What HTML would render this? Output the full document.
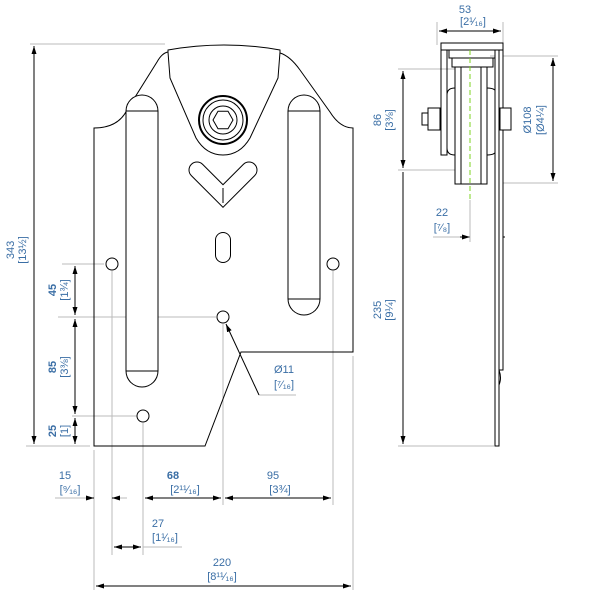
<!DOCTYPE html>
<html><head><style>body{margin:0;background:#fff}svg{display:block}text{font-family:"Liberation Sans",sans-serif;fill:#3a6ea5;font-size:11px}</style></head><body>
<svg width="600" height="600" viewBox="0 0 600 600">
<defs><marker id="a" markerWidth="8" markerHeight="6" refX="8" refY="3" orient="auto-start-reverse"><path d="M0,0.5L8,3L0,5.5z" fill="#000"/></marker></defs>
<g stroke="#bbb" stroke-width="1" fill="none">
<line x1="30" y1="44" x2="165" y2="44"/><line x1="26" y1="446" x2="90" y2="446"/>
<line x1="62" y1="264" x2="104" y2="264"/><line x1="58" y1="317" x2="216" y2="317"/><line x1="72" y1="416" x2="137" y2="416"/>
<line x1="94" y1="450" x2="94" y2="590"/><line x1="112" y1="271" x2="112" y2="555"/><line x1="143" y1="423" x2="143" y2="555"/>
<line x1="223" y1="324" x2="223" y2="505"/><line x1="333" y1="271" x2="333" y2="505"/><line x1="353" y1="356" x2="353" y2="590"/>
<line x1="143" y1="547" x2="182" y2="547"/><line x1="55" y1="498" x2="86" y2="498"/><line x1="120" y1="498" x2="127" y2="498"/>
<line x1="437" y1="22" x2="437" y2="45"/><line x1="503" y1="22" x2="503" y2="45"/>
<line x1="398" y1="69" x2="460" y2="69"/><line x1="398" y1="170" x2="460" y2="170"/>
<line x1="490" y1="56" x2="558" y2="56"/><line x1="500" y1="183" x2="558" y2="183"/>
<line x1="398" y1="446" x2="494" y2="446"/><line x1="433" y1="237" x2="460" y2="237"/>
<line x1="259" y1="395" x2="296" y2="395"/>
</g>
<g stroke="#000" stroke-width="1" fill="none">
<line x1="34" y1="46" x2="34" y2="444" marker-start="url(#a)" marker-end="url(#a)"/>
<line x1="75" y1="266" x2="75" y2="315" marker-start="url(#a)" marker-end="url(#a)"/>
<line x1="75" y1="319" x2="75" y2="414" marker-start="url(#a)" marker-end="url(#a)"/>
<line x1="75" y1="418" x2="75" y2="444" marker-start="url(#a)" marker-end="url(#a)"/>
<line x1="86" y1="498" x2="94" y2="498" marker-end="url(#a)"/><line x1="120" y1="498" x2="112" y2="498" marker-end="url(#a)"/>
<line x1="145" y1="498" x2="221" y2="498" marker-start="url(#a)" marker-end="url(#a)"/>
<line x1="225" y1="498" x2="331" y2="498" marker-start="url(#a)" marker-end="url(#a)"/>
<line x1="114" y1="547" x2="141" y2="547" marker-start="url(#a)" marker-end="url(#a)"/>
<line x1="96" y1="586" x2="351" y2="586" marker-start="url(#a)" marker-end="url(#a)"/>
<line x1="439" y1="93" x2="501" y2="93" stroke-width="0" />
<line x1="439" y1="31" x2="501" y2="31" marker-start="url(#a)" marker-end="url(#a)"/>
<line x1="403" y1="71" x2="403" y2="168" marker-start="url(#a)" marker-end="url(#a)"/>
<line x1="403" y1="172" x2="403" y2="444" marker-end="url(#a)"/>
<line x1="553" y1="58" x2="553" y2="181" marker-start="url(#a)" marker-end="url(#a)"/>
<line x1="460" y1="237" x2="470" y2="237" marker-end="url(#a)"/><line x1="505" y1="237" x2="495" y2="237" marker-end="url(#a)"/>
<line x1="470" y1="200" x2="470" y2="242" stroke="#bbb"/><line x1="495" y1="200" x2="495" y2="242" stroke="#bbb"/>
<line x1="259" y1="395" x2="226" y2="324" marker-end="url(#a)"/>
<!-- plate -->
<path d="M94,446 L94,128 Q118,128 127,110 L157,62 Q162,53 168,52 L168,50 Q224,40 280,50 L280,53 Q290,56 300,70 L330,112 Q340,128 353,128 L353,352 L241,352 L205,446 Z"/>
<path d="M168,52 L170,78 L196,138 Q206,155 223,155 Q240,155 250,138 L278,78 L280,52"/>
<circle cx="223" cy="120" r="24" stroke-width="2"/><circle cx="223" cy="120" r="20"/><circle cx="223" cy="120" r="14"/>
<polygon points="233,120 228,128.7 218,128.7 213,120 218,111.3 228,111.3"/>
<circle cx="112" cy="264" r="6"/><circle cx="333" cy="264" r="6"/><circle cx="223" cy="317" r="6"/><circle cx="143" cy="416" r="6"/>
</g>
<g stroke-linecap="round" stroke-linejoin="miter" fill="none">
<path d="M142,111 L142,371" stroke="#000" stroke-width="33"/><path d="M142,111 L142,371" stroke="#fff" stroke-width="31"/>
<path d="M304,111 L304,299" stroke="#000" stroke-width="33"/><path d="M304,111 L304,299" stroke="#fff" stroke-width="31"/>
<path d="M223,240 L223,255" stroke="#000" stroke-width="16"/><path d="M223,240 L223,255" stroke="#fff" stroke-width="14"/>
<path d="M197,170 L223,196 L249,170" stroke="#000" stroke-width="17"/><path d="M197,170 L223,196 L249,170" stroke="#fff" stroke-width="15"/>
</g>
<g stroke="#000" stroke-width="1" fill="none">
<line x1="126" y1="111" x2="158" y2="111"/><line x1="126" y1="371" x2="158" y2="371"/><line x1="288" y1="299" x2="320" y2="299"/><line x1="288" y1="111" x2="320" y2="111"/>
<line x1="223" y1="188" x2="223" y2="203"/>
<!-- side view -->
<rect x="441" y="43" width="62" height="7"/>
<rect x="449" y="50" width="46" height="8"/><rect x="452" y="58" width="41" height="9"/>
<rect x="441" y="50" width="6" height="105"/>
<path d="M447,95 Q447,88 455,88 L487,88 Q497,88 497,95 L497,148 Q497,155 487,155 L455,155 Q447,155 447,148 Z" fill="#fff"/>
<rect x="455" y="67" width="6" height="117" fill="#fff"/><rect x="481" y="67" width="6" height="117" fill="#fff"/>
<rect x="461" y="67" width="20" height="117" fill="#fff"/>
<rect x="495" y="50" width="4" height="396" fill="#fff"/><rect x="499" y="50" width="4" height="320" fill="#fff"/>
<path d="M499,370 Q502,378 499,385"/>
<rect x="428" y="108" width="12" height="22" fill="#fff"/><rect x="422" y="113" width="6" height="12" fill="#fff"/>
<rect x="500" y="108" width="11" height="22" fill="#fff"/>
</g>
<line x1="470" y1="50" x2="470" y2="200" stroke="#7ed321" stroke-width="1" stroke-dasharray="5,3"/>
<g>
<text transform="translate(14,250) rotate(-90)" text-anchor="middle">343</text>
<text transform="translate(26,250) rotate(-90)" text-anchor="middle">[13½]</text>
<text transform="translate(56,290) rotate(-90)" text-anchor="middle" font-weight="bold">45</text>
<text transform="translate(68,290) rotate(-90)" text-anchor="middle">[1¾]</text>
<text transform="translate(56,367) rotate(-90)" text-anchor="middle" font-weight="bold">85</text>
<text transform="translate(68,367) rotate(-90)" text-anchor="middle">[3⅜]</text>
<text transform="translate(56,431) rotate(-90)" text-anchor="middle" font-weight="bold">25</text>
<text transform="translate(68,431) rotate(-90)" text-anchor="middle">[1]</text>
<text x="65" y="479" text-anchor="middle">15</text><text x="70" y="493" text-anchor="middle">[⁹⁄₁₆]</text>
<text x="173" y="479" text-anchor="middle" font-weight="bold">68</text><text x="185" y="493" text-anchor="middle">[2¹¹⁄₁₆]</text>
<text x="273" y="479" text-anchor="middle">95</text><text x="280" y="493" text-anchor="middle">[3¾]</text>
<text x="158" y="527" text-anchor="middle">27</text><text x="165" y="541" text-anchor="middle">[1¹⁄₁₆]</text>
<text x="222" y="566" text-anchor="middle">220</text><text x="222" y="580" text-anchor="middle">[8¹¹⁄₁₆]</text>
<text x="284" y="373" text-anchor="middle">Ø11</text><text x="284" y="388" text-anchor="middle">[⁷⁄₁₆]</text>
<text x="465" y="13" text-anchor="middle">53</text><text x="473" y="25" text-anchor="middle">[2¹⁄₁₆]</text>
<text transform="translate(381,120) rotate(-90)" text-anchor="middle">86</text>
<text transform="translate(393,120) rotate(-90)" text-anchor="middle">[3⅜]</text>
<text transform="translate(531,120) rotate(-90)" text-anchor="middle">Ø108</text>
<text transform="translate(544,120) rotate(-90)" text-anchor="middle">[Ø4¼]</text>
<text x="442" y="216" text-anchor="middle">22</text><text x="442" y="231" text-anchor="middle">[⁷⁄₈]</text>
<text transform="translate(381,310) rotate(-90)" text-anchor="middle">235</text>
<text transform="translate(393,310) rotate(-90)" text-anchor="middle">[9¼]</text>
</g>
</svg>
</body></html>
